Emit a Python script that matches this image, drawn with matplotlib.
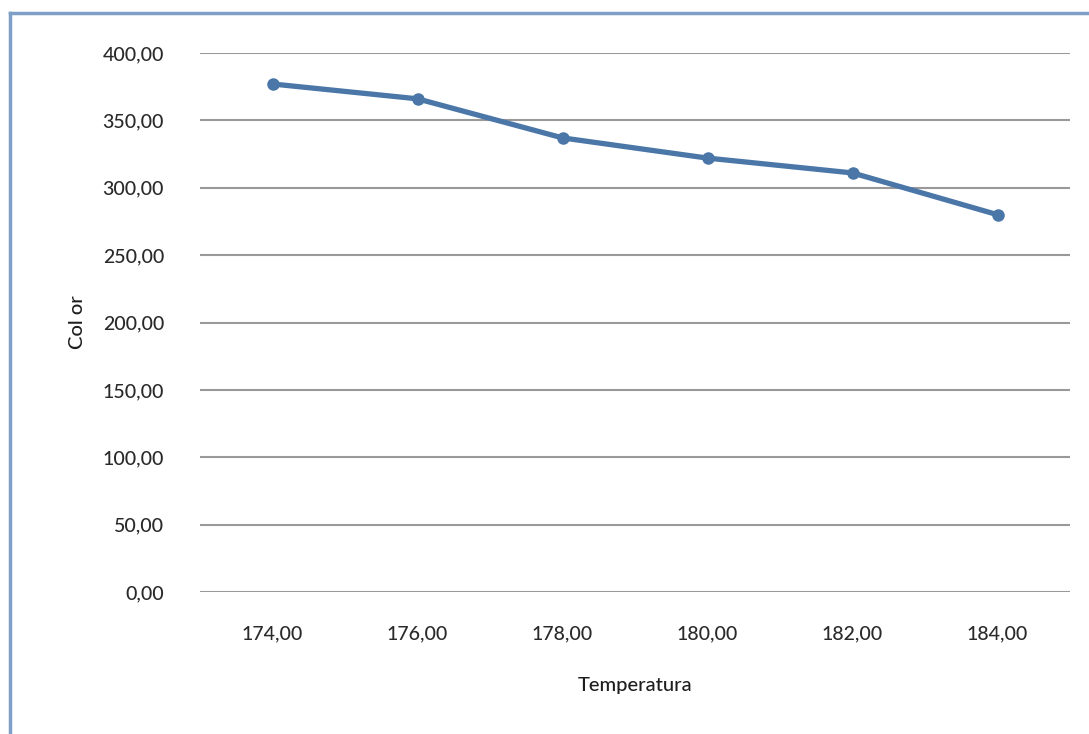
import matplotlib
matplotlib.use("Agg")
import matplotlib.pyplot as plt
from matplotlib.lines import Line2D
from matplotlib.ticker import FuncFormatter

temperatures = ["174,00", "176,00", "178,00", "180,00", "182,00", "184,00"]
color_values = [377, 366, 337, 322, 311, 280]
y_ticks = [0, 50, 100, 150, 200, 250, 300, 350, 400]

plt.rcParams["font.family"] = ["Lato", "DejaVu Sans"]

W, H = 1089, 734
fig = plt.figure(figsize=(W / 100, H / 100), dpi=100)
fig.patch.set_facecolor("white")

ax = fig.add_axes([200 / W, 1 - 592 / H, 870 / W, (592 - 53) / H])
x = list(range(len(temperatures)))
ax.plot(x, color_values, color="#4a76a8", lw=3.8, marker="o", ms=8,
        mfc="#4a76a8", mec="#4a76a8", solid_capstyle="round", zorder=3)

ax.set_xlim(-0.5, len(temperatures) - 0.5)
ax.set_ylim(0, 400)
ax.set_yticks(y_ticks)
ax.yaxis.set_major_formatter(FuncFormatter(lambda v, p: f"{v:.2f}".replace(".", ",")))
ax.set_xticks(x)
ax.set_xticklabels(temperatures)
ax.grid(axis="y", color="#999999", lw=1.5)
ax.set_axisbelow(True)
for s in ax.spines.values():
    s.set_visible(False)
ax.tick_params(length=0, labelsize=14, colors="#2a2a2a")
ax.tick_params(axis="y", pad=26)
ax.tick_params(axis="x", pad=24)
for lbl in ax.get_xticklabels() + ax.get_yticklabels():
    lbl.set_fontweight("medium")

ax.set_xlabel("Temperatura", fontsize=14.5, color="#1e1e1e", labelpad=25,
              fontweight="medium")
ax.set_ylabel("Col or", fontsize=14.5, color="#1e1e1e", labelpad=12,
              fontweight="medium")

# frame edges along the top and left of the chart area
fig.add_artist(Line2D([10 / W, 1.0], [1 - 13 / H, 1 - 13 / H],
                      transform=fig.transFigure, color="#7f9fc6", lw=2.5))
fig.add_artist(Line2D([10 / W, 10 / W], [1 - 13 / H, 0.0],
                      transform=fig.transFigure, color="#7f9fc6", lw=2.5))

fig.savefig("out.png", dpi=100)
